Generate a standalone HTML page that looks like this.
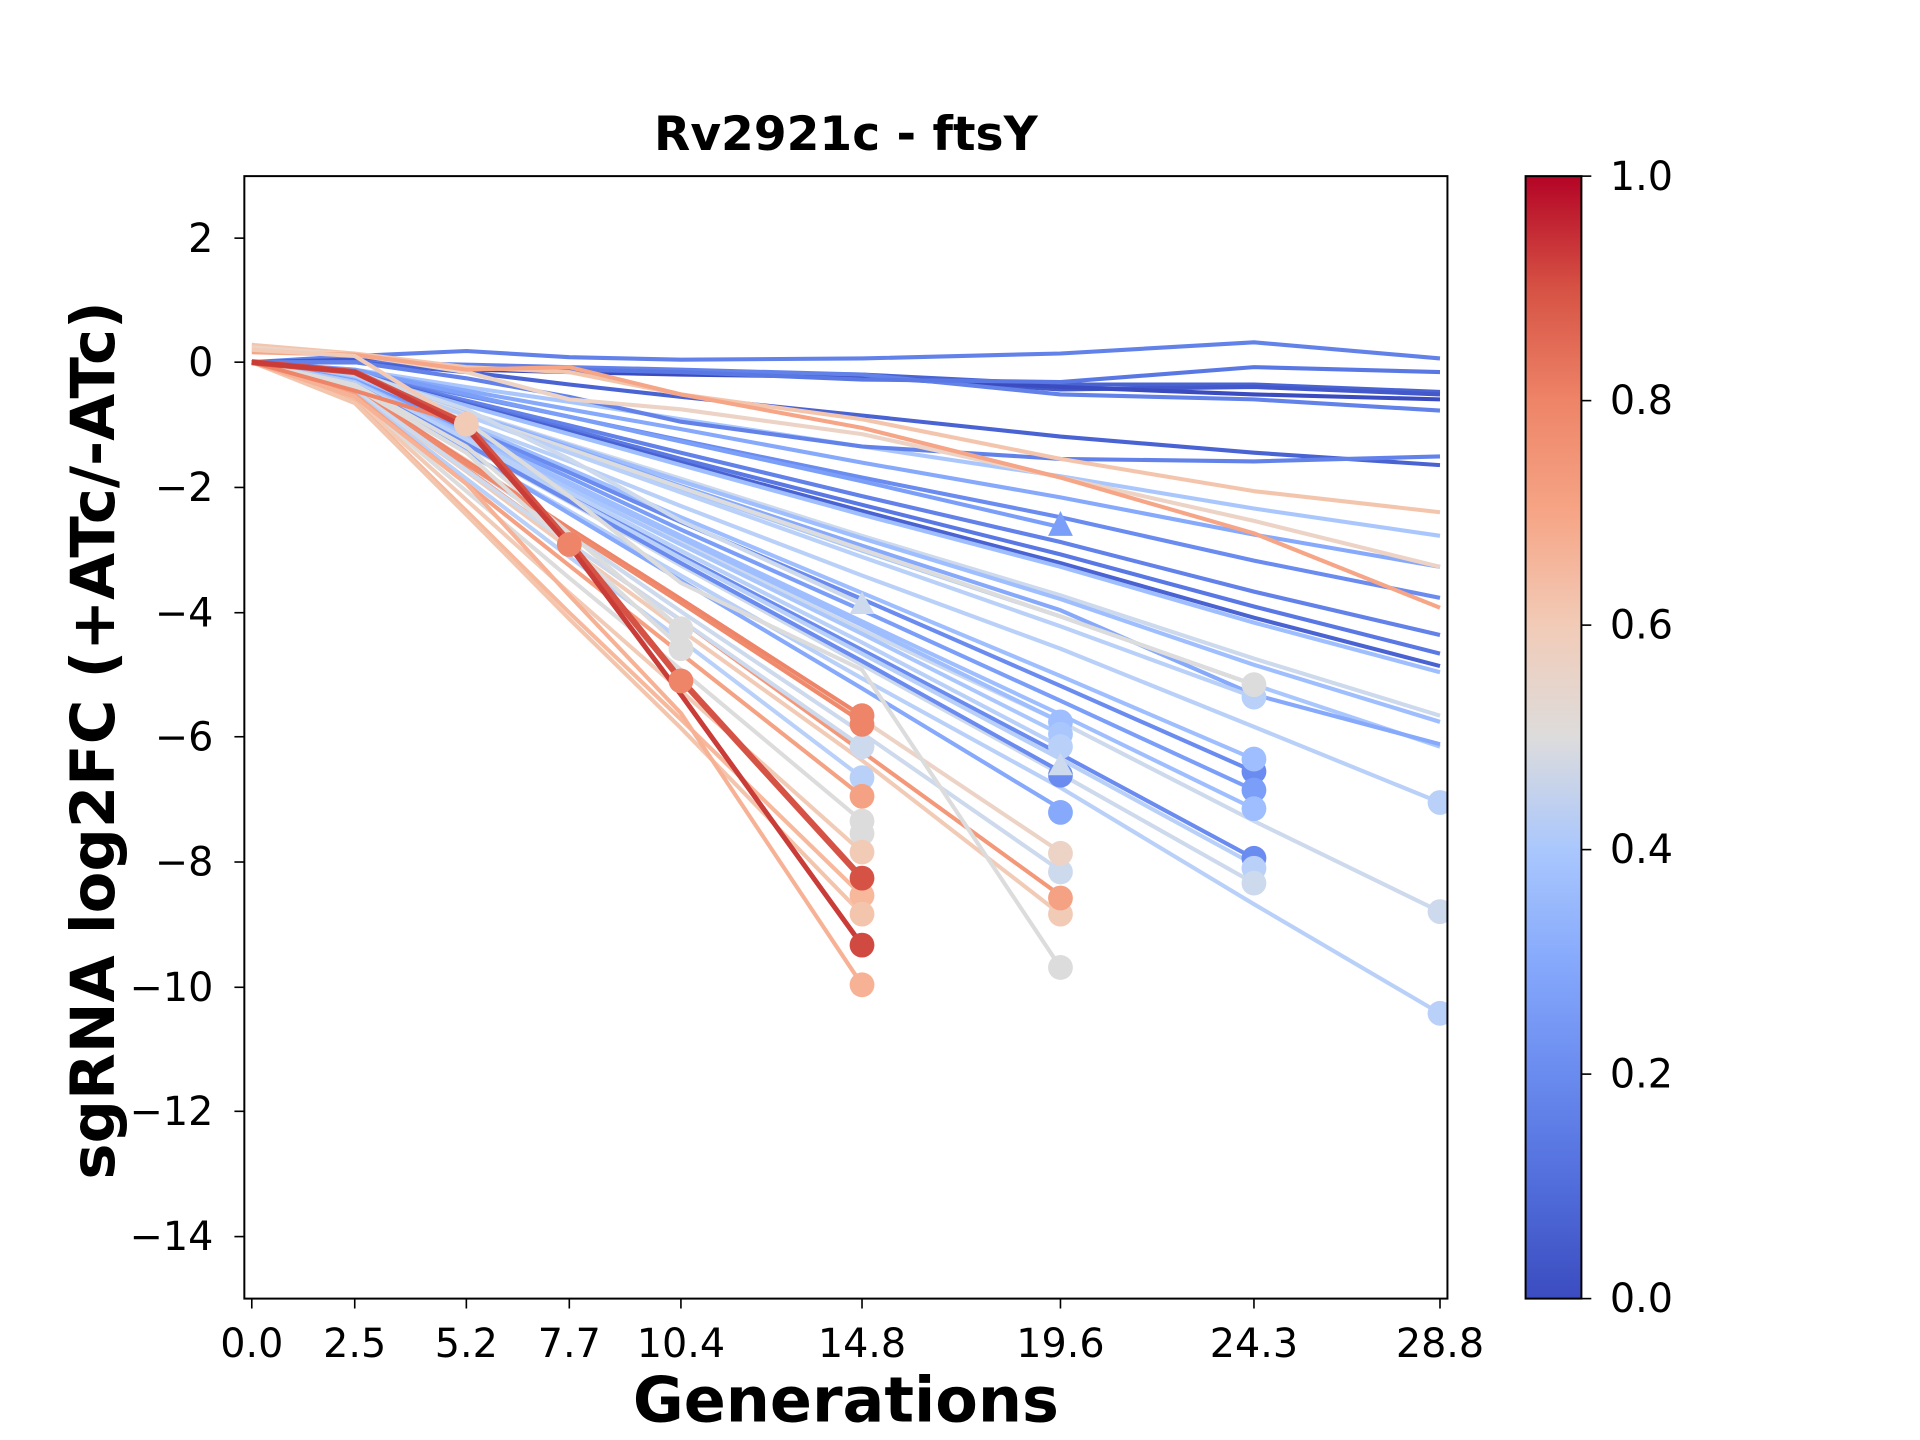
<!DOCTYPE html>
<html><head><meta charset="utf-8"><style>
html,body{margin:0;padding:0;background:#fff;}
svg{display:block;}
text{font-family:"DejaVu Sans","Liberation Sans",sans-serif;}
</style></head><body>
<svg width="1920" height="1440" viewBox="0 0 1548 1161" preserveAspectRatio="none" xmlns="http://www.w3.org/2000/svg">
<defs>
<linearGradient id="cw" x1="0" y1="1" x2="0" y2="0">
<stop offset="0" stop-color="#3b4cc0"/><stop offset="0.1" stop-color="#516ddb"/><stop offset="0.2" stop-color="#6a8bef"/>
<stop offset="0.3" stop-color="#86a9fc"/><stop offset="0.4" stop-color="#aac7fd"/><stop offset="0.5" stop-color="#dddcdc"/>
<stop offset="0.6" stop-color="#f2cbb7"/><stop offset="0.7" stop-color="#f6a586"/><stop offset="0.8" stop-color="#ee8468"/>
<stop offset="0.9" stop-color="#d65244"/><stop offset="1" stop-color="#b40426"/>
</linearGradient>
<clipPath id="ax"><rect x="197" y="142" width="970" height="905"/></clipPath>
</defs>
<rect width="1548" height="1161" fill="#fff"/>
<g clip-path="url(#ax)" fill="none" stroke-width="3.3" stroke-linejoin="round">
<polyline stroke="#aac7fd" points="203,292 286,298 376,312 459,324 549,338 695,360 855,384 1011,410 1161,432"/>
<polyline stroke="#86a9fc" points="203,292 286,299 376,315 459,330 549,346 695,373 855,401 1011,431 1161,457"/>
<polyline stroke="#6a8bef" points="203,292 286,300 376,319 459,336 549,355 695,385 855,417 1011,452 1161,482"/>
<polyline stroke="#6282ea" points="203,292 286,301 376,323 459,343 549,365 695,400 855,437 1011,477 1161,512"/>
<polyline stroke="#5a78e4" points="203,292 286,301 376,325 459,346 549,370 695,407 855,447 1011,489 1161,527"/>
<polyline stroke="#4a63d3" points="203,292 286,302 376,326 459,348 549,373 695,412 855,454 1011,498 1161,537"/>
<polyline stroke="#9ebeff" points="203,292 286,302 376,327 459,350 549,375 695,415 855,457 1011,502 1161,542"/>
<polyline stroke="#cdd9ec" points="203,292 286,303 376,332 459,358 549,386 695,432 855,480 1011,531 1161,577"/>
<polyline stroke="#9ebeff" points="203,292 286,304 376,333 459,359 549,388 695,434 855,483 1011,536 1161,582"/>
<polyline stroke="#aac7fd" points="203,292 286,304 376,335 459,363 549,394 695,444 855,497 1011,552 1161,602"/>
<polyline stroke="#86a9fc" points="203,292 286,305 376,334 459,361 549,392 695,440 855,492 1011,560 1161,600"/>
<polyline stroke="#b9d0f9" points="203,292 286,306 376,341 459,372 549,408 695,464 855,523 1011,586 1161,647"/>
<polyline stroke="#cdd9ec" points="203,292 286,310 376,354 459,393 549,437 695,508 855,582 1011,662 1161,735"/>
<polyline stroke="#b9d0f9" points="203,292 286,313 376,365 459,412 549,464 695,547 855,635 1011,729 1161,817"/>
<polyline stroke="#dddcdc" points="203,292 286,303 376,334 459,362 549,393 695,443 855,497 1011,552"/>
<polyline stroke="#b9d0f9" points="203,292 286,304 376,335 459,365 549,397 695,449 855,505 1011,562"/>
<polyline stroke="#9ebeff" points="203,292 286,306 376,343 459,378 549,417 695,478 855,545 1011,612"/>
<polyline stroke="#6a8bef" points="203,292 286,307 376,345 459,381 549,421 695,483 855,553 1011,622"/>
<polyline stroke="#7b9ff9" points="203,292 286,307 376,347 459,385 549,427 695,492 855,565 1011,637"/>
<polyline stroke="#9ebeff" points="203,292 286,308 376,350 459,389 549,432 695,501 855,576 1011,652"/>
<polyline stroke="#6a8bef" points="203,292 286,310 376,356 459,400 549,448 695,524 855,608 1011,692"/>
<polyline stroke="#b9d0f9" points="203,292 286,310 376,357 459,401 549,450 695,527 855,612 1011,697"/>
<polyline stroke="#cdd9ec" points="203,292 286,310 376,359 459,405 549,456 695,536 855,624 1011,712"/>
<polyline stroke="#9ebeff" points="203,292 286,308 376,350 459,391 549,434 695,504 855,582"/>
<polyline stroke="#aac7fd" points="203,292 286,308 376,352 459,394 549,439 695,511 855,592"/>
<polyline stroke="#b9d0f9" points="203,292 286,309 376,354 459,397 549,444 695,518 855,602"/>
<polyline stroke="#6a8bef" points="203,292 286,310 376,358 459,404 549,454 695,533 855,622"/>
<polyline stroke="#86a9fc" points="203,292 286,312 376,364 459,414 549,468 695,555 855,652"/>
<polyline stroke="#ecd3c5" points="203,292 286,314 376,371 459,426 549,486 695,580 855,687"/>
<polyline stroke="#cdd9ec" points="203,292 286,315 376,374 459,431 549,493 695,591 855,702"/>
<polyline stroke="#f4987a" points="203,292 286,316 376,378 459,438 549,500 695,606 855,722"/>
<polyline stroke="#f2cbb7" points="203,292 286,316 376,380 459,442 549,508 695,613 855,737"/>
<polyline stroke="#dddcdc" points="203,292 286,300 376,340 459,400 549,470 695,540 855,780"/>
<polyline stroke="#7b9ff9" points="203,292 286,298 376,318 459,336 549,356 695,388 855,425"/>
<polyline stroke="#6282ea" points="203,292 286,287 376,283 459,288 549,290 695,289 855,285 1011,276 1161,289"/>
<polyline stroke="#4a63d3" points="203,292 286,292 376,295 459,298 549,300 695,302 855,310 1011,310 1161,316"/>
<polyline stroke="#4358cb" points="203,292 286,290 376,296 459,298 549,301 695,304 855,314 1011,312 1161,318"/>
<polyline stroke="#3b4cc0" points="203,292 286,292 376,298 459,300 549,302 695,304 855,312 1011,318 1161,322"/>
<polyline stroke="#6282ea" points="203,292 286,292 376,294 459,296 549,298 695,302 855,318 1011,322 1161,331"/>
<polyline stroke="#5a78e4" points="203,292 286,292 376,297 459,298 549,300 695,306 855,308 1011,296 1161,300"/>
<polyline stroke="#4a63d3" points="203,292 286,292 376,300 459,310 549,320 695,335 855,352 1011,365 1161,375"/>
<polyline stroke="#6282ea" points="203,292 286,292 376,305 459,320 549,340 695,360 855,370 1011,372 1161,368"/>
<polyline stroke="#f4c5ad" points="203,278 286,285 376,296 459,300 549,318 695,338 855,370 1011,396 1161,413"/>
<polyline stroke="#ecd3c5" points="203,280 286,286 376,300 459,322 549,330 695,350 855,385 1011,420 1161,457"/>
<polyline stroke="#f6a586" points="203,284 286,286 376,298 459,296 549,318 695,345 855,385 1011,430 1161,490"/>
<polyline stroke="#ee8468" points="203,292 286,313 376,372 459,426 549,483 695,577"/>
<polyline stroke="#f08a6c" points="203,292 286,314 376,374 459,428 549,486 695,582"/>
<polyline stroke="#cdd9ec" points="203,292 286,315 376,379 459,438 549,500 695,602"/>
<polyline stroke="#b9d0f9" points="203,292 286,317 376,386 459,449 549,516 695,627"/>
<polyline stroke="#f4a283" points="203,292 286,318 376,390 459,456 549,527 695,642"/>
<polyline stroke="#dddcdc" points="203,292 286,320 376,396 459,466 549,540 695,662"/>
<polyline stroke="#f2cbb7" points="203,292 286,322 376,403 459,478 549,557 695,687"/>
<polyline stroke="#f7b89c" points="203,292 286,324 376,412 459,494 549,580 695,722"/>
<polyline stroke="#f4c5ad" points="203,292 286,325 376,415 459,499 549,587 695,737"/>
<polyline stroke="#f7b194" points="203,292 286,320 376,390 459,480 549,575 695,794"/>
<polyline stroke="#cdd9ec" points="203,292 286,300 376,330 459,370 549,420 695,487"/>
<polyline stroke="#dddcdc" points="203,292 286,310 376,360 459,430 549,507"/>
<polyline stroke="#dddcdc" points="203,292 286,312 376,365 459,440 549,522"/>
<polyline stroke="#ee8468" points="203,292 286,315 376,342 459,437 549,547"/>
<polyline stroke="#ec7f63" stroke-width="4" points="203,292 286,300 376,342 459,437"/>
<polyline stroke="#f2cbb7" points="203,282 286,287 376,342"/>
<polyline stroke="#d65244" stroke-width="5" points="203,292 286,300 376,342 459,437 549,548 695,708"/>
<polyline stroke="#c93c38" stroke-width="4" points="203,292 286,300 376,345 459,440 549,560 695,762"/>
</g>
<g clip-path="url(#ax)">
<circle cx="376" cy="342" r="10" fill="#f2cbb7"/>
<circle cx="459" cy="439" r="10" fill="#ee8468"/>
<circle cx="549" cy="507" r="10" fill="#dddcdc"/>
<circle cx="549" cy="523" r="10" fill="#dddcdc"/>
<circle cx="549" cy="549" r="10" fill="#ee8468"/>
<polygon points="695,477 685,495 705,495" fill="#cdd9ec"/>
<circle cx="695" cy="602" r="10" fill="#cdd9ec"/>
<circle cx="695" cy="627" r="10" fill="#b9d0f9"/>
<circle cx="695" cy="662" r="10" fill="#dddcdc"/>
<circle cx="695" cy="672" r="10" fill="#dddcdc"/>
<circle cx="695" cy="687" r="10" fill="#f2cbb7"/>
<circle cx="695" cy="722" r="10" fill="#f7b89c"/>
<circle cx="695" cy="737" r="10" fill="#f4c5ad"/>
<circle cx="695" cy="642" r="10" fill="#f4a283"/>
<circle cx="695" cy="577" r="10" fill="#ee8468"/>
<circle cx="695" cy="584" r="10" fill="#ee8468"/>
<circle cx="695" cy="708" r="10" fill="#d65244"/>
<circle cx="695" cy="762" r="10" fill="#d14a41"/>
<circle cx="695" cy="794" r="10" fill="#f7b194"/>
<polygon points="855,412 845,432 865,432" fill="#7b9ff9"/>
<circle cx="855" cy="582" r="10" fill="#9ebeff"/>
<circle cx="855" cy="592" r="10" fill="#aac7fd"/>
<circle cx="855" cy="602" r="10" fill="#b9d0f9"/>
<circle cx="855" cy="625" r="10" fill="#6a8bef"/>
<polygon points="855,607 845,625 865,625" fill="#cdd9ec"/>
<circle cx="855" cy="655" r="10" fill="#86a9fc"/>
<circle cx="855" cy="703" r="10" fill="#cdd9ec"/>
<circle cx="855" cy="688" r="10" fill="#ecd3c5"/>
<circle cx="855" cy="737" r="10" fill="#f2cbb7"/>
<circle cx="855" cy="724" r="10" fill="#f4a283"/>
<circle cx="855" cy="780" r="10" fill="#dddcdc"/>
<circle cx="1011" cy="562" r="10" fill="#b9d0f9"/>
<circle cx="1011" cy="552" r="10" fill="#dddcdc"/>
<circle cx="1011" cy="622" r="10" fill="#6a8bef"/>
<circle cx="1011" cy="637" r="10" fill="#7b9ff9"/>
<circle cx="1011" cy="612" r="10" fill="#9ebeff"/>
<circle cx="1011" cy="652" r="10" fill="#9ebeff"/>
<circle cx="1011" cy="692" r="10" fill="#6a8bef"/>
<circle cx="1011" cy="700" r="10" fill="#b9d0f9"/>
<circle cx="1011" cy="712" r="10" fill="#cdd9ec"/>
<circle cx="1161" cy="647" r="10" fill="#b9d0f9"/>
<circle cx="1161" cy="735" r="10" fill="#cdd9ec"/>
<circle cx="1161" cy="817" r="10" fill="#b9d0f9"/>
</g>
<rect x="197" y="142" width="970" height="905" fill="none" stroke="#000" stroke-width="1.6"/>
<g stroke="#000" stroke-width="1.3">
<line x1="197" y1="192" x2="189" y2="192"/><line x1="197" y1="292" x2="189" y2="292"/><line x1="197" y1="393" x2="189" y2="393"/>
<line x1="197" y1="494" x2="189" y2="494"/><line x1="197" y1="594" x2="189" y2="594"/><line x1="197" y1="695" x2="189" y2="695"/>
<line x1="197" y1="796" x2="189" y2="796"/><line x1="197" y1="896" x2="189" y2="896"/><line x1="197" y1="997" x2="189" y2="997"/>
<line x1="203" y1="1047" x2="203" y2="1055"/><line x1="286" y1="1047" x2="286" y2="1055"/><line x1="376" y1="1047" x2="376" y2="1055"/>
<line x1="459" y1="1047" x2="459" y2="1055"/><line x1="549" y1="1047" x2="549" y2="1055"/><line x1="695" y1="1047" x2="695" y2="1055"/>
<line x1="855" y1="1047" x2="855" y2="1055"/><line x1="1011" y1="1047" x2="1011" y2="1055"/><line x1="1161" y1="1047" x2="1161" y2="1055"/>
</g>
<g font-size="32" text-anchor="end">
<text x="172" y="203">2</text><text x="172" y="303">0</text><text x="172" y="404">−2</text><text x="172" y="505">−4</text>
<text x="172" y="605">−6</text><text x="172" y="706">−8</text><text x="172" y="807">−10</text><text x="172" y="907">−12</text><text x="172" y="1008">−14</text>
</g>
<g font-size="32" text-anchor="middle">
<text x="203" y="1094">0.0</text><text x="286" y="1094">2.5</text><text x="376" y="1094">5.2</text><text x="459" y="1094">7.7</text>
<text x="549" y="1094">10.4</text><text x="695" y="1094">14.8</text><text x="855" y="1094">19.6</text><text x="1011" y="1094">24.3</text><text x="1161" y="1094">28.8</text>
</g>
<text x="682" y="121" font-size="38" font-weight="bold" text-anchor="middle">Rv2921c - ftsY</text>
<text x="682" y="1146" font-size="50" font-weight="bold" text-anchor="middle">Generations</text>
<text transform="translate(92,597) rotate(-90)" font-size="49" font-weight="bold" text-anchor="middle">sgRNA log2FC (+ATc/-ATc)</text>
<rect x="1230" y="142" width="45" height="905" fill="url(#cw)" stroke="#000" stroke-width="1.6"/>
<g stroke="#000" stroke-width="1.3">
<line x1="1275" y1="142" x2="1283" y2="142"/><line x1="1275" y1="323" x2="1283" y2="323"/><line x1="1275" y1="504" x2="1283" y2="504"/>
<line x1="1275" y1="685" x2="1283" y2="685"/><line x1="1275" y1="866" x2="1283" y2="866"/><line x1="1275" y1="1047" x2="1283" y2="1047"/>
</g>
<g font-size="32">
<text x="1298" y="153">1.0</text><text x="1298" y="334">0.8</text><text x="1298" y="515">0.6</text>
<text x="1298" y="696">0.4</text><text x="1298" y="877">0.2</text><text x="1298" y="1058">0.0</text>
</g>
</svg>
</body></html>
